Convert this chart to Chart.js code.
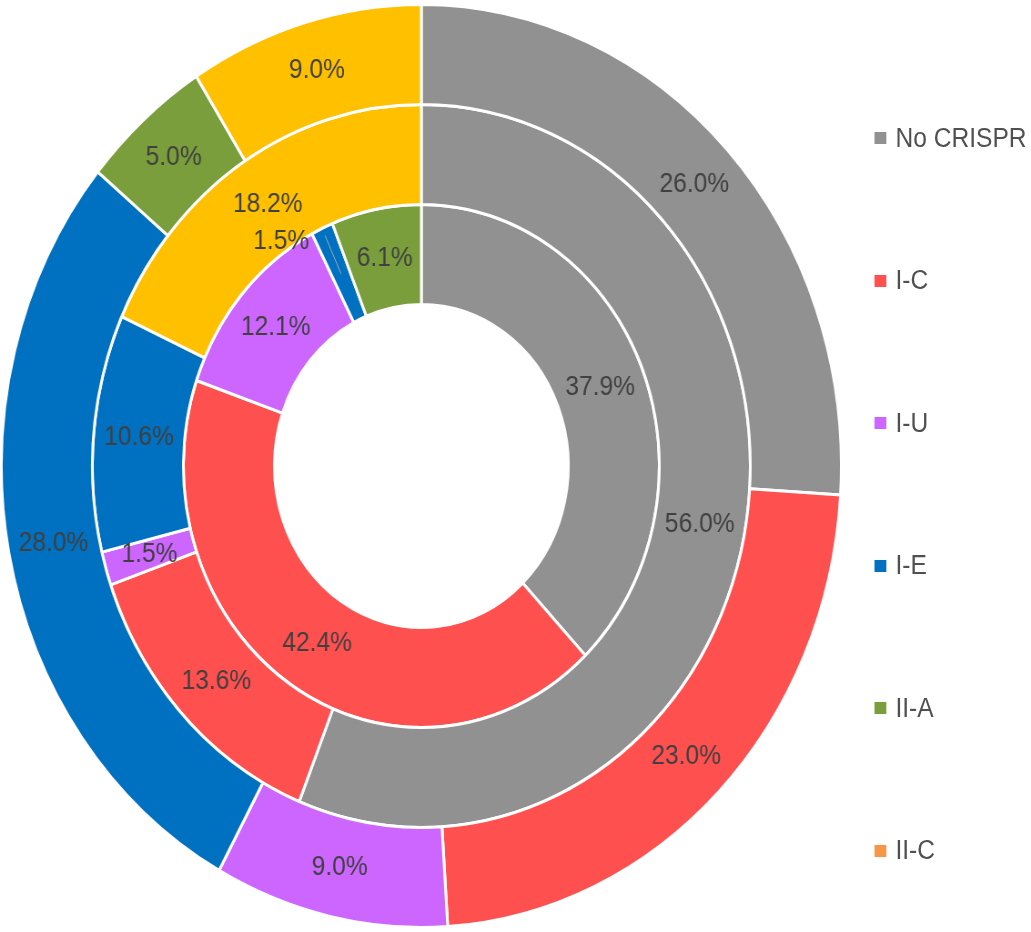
<!DOCTYPE html>
<html><head><meta charset="utf-8">
<script src="https://cdn.jsdelivr.net/npm/chart.js@4.4.1/dist/chart.umd.min.js"></script>
<style>
html,body{margin:0;padding:0;background:#fff;overflow:hidden;width:1031px;height:932px;}
#wrap{position:absolute;left:0;top:0;width:1133px;height:932px;transform:scaleX(0.91);transform-origin:0 0;overflow:hidden;}
#cv{position:absolute;left:0;top:0;}
.leg{position:absolute;left:961px;height:30px;display:flex;align-items:center;font-family:'Liberation Sans',Arial,sans-serif;font-size:27px;color:#505050;white-space:nowrap;}
.leg i{display:inline-block;width:13px;height:12px;margin-right:10px;}
</style></head>
<body>
<div id="wrap"><canvas id="cv" width="926" height="932"></canvas><div id="legend"></div></div>
<script>
// Categories (last one is shown in the rings but its legend entry lies below the visible area)
const categories = ['No CRISPR', 'I-C', 'I-U', 'I-E', 'II-A', 'II-C', ''];
const colors = ['#919191', '#FF5050', '#CC66FF', '#0070C0', '#7A9E3C', '#F79646', '#FFC000'];
// Ring values (%), outermost first
const outerRing  = [26.0, 23.0, 9.0, 28.0, 5.0, 0, 9.0];
const middleRing = [56.0, 13.6, 1.5, 10.6, 0, 0, 18.2];
const innerRing  = [37.9, 42.4, 12.1, 1.5, 6.1, 0, 0];

const FONT = '27px "Liberation Sans", Arial, sans-serif';

const arcLabels = {
  id: 'arcLabels',
  afterDatasetsDraw(chart) {
    const ctx = chart.ctx;
    const n = chart.data.datasets.length;
    chart.data.datasets.forEach((ds, di) => {
      const meta = chart.getDatasetMeta(di);
      meta.data.forEach((arc, i) => {
        const v = ds.data[i];
        if (!v) return;
        const p = arc.getProps(['x', 'y', 'startAngle', 'endAngle', 'innerRadius', 'outerRadius'], true);
        const mid = (p.startAngle + p.endAngle) / 2;
        const r = (p.innerRadius + p.outerRadius) / 2;
        let lx = p.x + Math.cos(mid) * r;
        let ly = p.y + Math.sin(mid) * r;
        ctx.save();
        if (di === n - 1 && (p.endAngle - p.startAngle) < 0.12) {
          // small slice on the inner ring: label placed just outside with a leader line
          const a2 = mid - 0.17, r2 = p.outerRadius + 11;
          const sx = p.x + Math.cos(mid) * (p.outerRadius - 8);
          const sy = p.y + Math.sin(mid) * (p.outerRadius - 8);
          ctx.strokeStyle = '#A6A6A6';
          ctx.lineWidth = 1;
          ctx.beginPath();
          ctx.moveTo(sx, sy);
          ctx.lineTo(lx, ly);
          ctx.stroke();
          lx = p.x + Math.cos(a2) * r2;
          ly = p.y + Math.sin(a2) * r2;
        }
        ctx.font = FONT;
        ctx.fillStyle = '#404040';
        ctx.textAlign = 'center';
        ctx.textBaseline = 'middle';
        ctx.fillText(v.toFixed(1) + '%', lx, ly);
        ctx.restore();
      });
    });
  }
};

const mk = (label, data) => ({
  label, data,
  backgroundColor: colors,
  borderColor: '#FFFFFF',
  borderWidth: 3,
  hoverOffset: 0,
  offset: 0
});

new Chart(document.getElementById('cv'), {
  type: 'doughnut',
  data: {
    labels: categories,
    datasets: [mk('Outer', outerRing), mk('Middle', middleRing), mk('Inner', innerRing)]
  },
  options: {
    responsive: false,
    animation: false,
    cutout: '35%',
    layout: { padding: 0 },
    plugins: { legend: { display: false }, tooltip: { enabled: false } }
  },
  plugins: [arcLabels]
});

// Legend
const leg = document.getElementById('legend');
categories.forEach((c, i) => {
  if (!c) return;
  const d = document.createElement('div');
  d.className = 'leg';
  d.style.top = (123 + i * 142.5) + 'px';
  const sw = document.createElement('i');
  sw.style.background = colors[i];
  d.appendChild(sw);
  d.appendChild(document.createTextNode(c));
  leg.appendChild(d);
});
</script>
</body></html>
